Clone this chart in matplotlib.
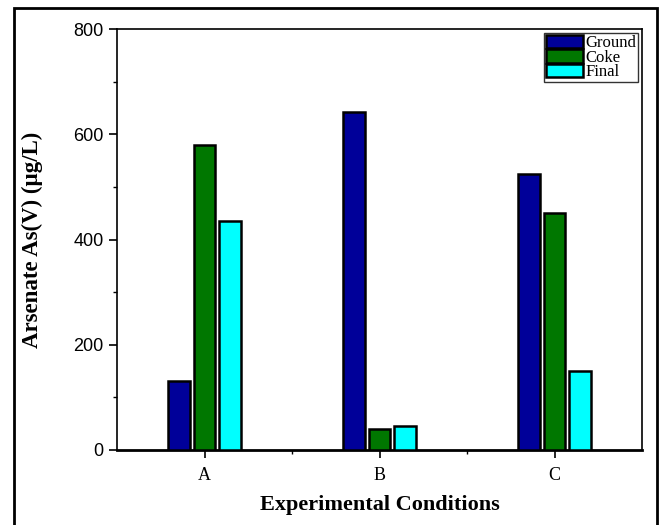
import numpy as np
import matplotlib.pyplot as plt
from matplotlib.patches import Rectangle
from matplotlib.ticker import MultipleLocator, FixedLocator

conditions = ['A', 'B', 'C']
series_names = ['Ground', 'Coke', 'Final']
ground = [132, 642, 525]
coke = [580, 40, 450]
final = [435, 46, 150]
colors = ['#000099', '#007700', '#00ffff']

W, H = 659, 525
fig = plt.figure(figsize=(W / 100, H / 100), dpi=100)
ax = fig.add_axes([117 / W, 1 - 450 / H, (642 - 117) / W, (450 - 29) / H])

# outer frame around the whole figure
fig.patches.append(Rectangle((14 / W, -0.02), (657 - 14) / W, 1 - 8 / H + 0.02,
                             transform=fig.transFigure, fill=False,
                             edgecolor='black', linewidth=2, zorder=0))

x = np.arange(len(conditions))
width = 0.125
step = 0.145
for i, (vals, name) in enumerate(zip([ground, coke, final], series_names)):
    ax.bar(x + (i - 1) * step, vals, width, color=colors[i], edgecolor='black',
           linewidth=1.8, label=name, zorder=3)

ax.set_xlim(-0.5, 2.5)
ax.set_ylim(0, 800)
ax.set_xticks(x)
ax.set_xticklabels(conditions, fontfamily='Liberation Serif', fontsize=13)
ax.xaxis.set_minor_locator(FixedLocator([0.5, 1.5]))
ax.yaxis.set_major_locator(MultipleLocator(200))
ax.yaxis.set_minor_locator(MultipleLocator(100))
for lab in ax.get_yticklabels():
    lab.set_fontfamily('Liberation Sans')
    lab.set_fontsize(13)
ax.tick_params(which='major', direction='out', length=6, width=1.2, top=False, right=False)
ax.tick_params(which='minor', direction='out', length=3, width=1.0)
ax.tick_params(axis='x', pad=6)
for s in ax.spines.values():
    s.set_linewidth(1.2)
ax.spines['bottom'].set_linewidth(2)

ax.set_xlabel('Experimental Conditions', fontfamily='Liberation Serif',
              fontweight='bold', fontsize=16, labelpad=8)
ax.set_ylabel('Arsenate As(V) (µg/L)', fontfamily='Liberation Serif',
              fontweight='bold', fontsize=16.5, labelpad=22)

leg = ax.legend(loc='upper right', prop={'family': 'Liberation Serif', 'size': 12},
                frameon=True, fancybox=False, edgecolor='black', borderaxespad=0.25,
                borderpad=0.1, handlelength=2.2, handleheight=0.85,
                handletextpad=0.15, labelspacing=-0.12, shadow=False)
leg.get_frame().set_linewidth(1.0)

fig.savefig('out.png', dpi=100)
